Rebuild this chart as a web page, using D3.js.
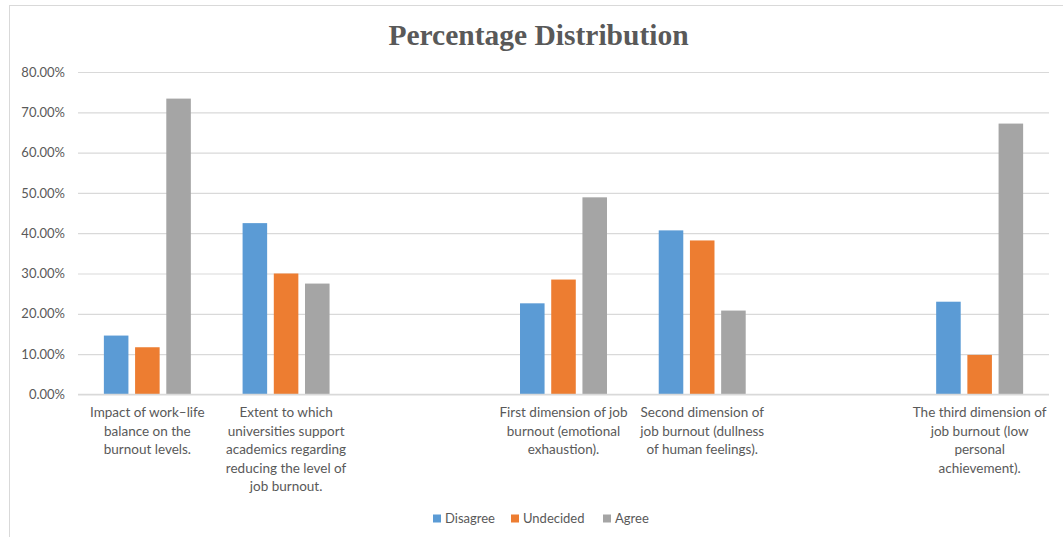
<!DOCTYPE html>
<html>
<head>
<meta charset="utf-8">
<script src="https://cdn.jsdelivr.net/npm/d3@7"></script>
<style>
  html, body { margin: 0; padding: 0; background: #fff; }
  svg { display: block; }
</style>
</head>
<body>
<svg id="chart" width="1063" height="537"></svg>
<script>
// ---- data ----
const categories = [
  "Impact of work\u2013life\nbalance on the\nburnout levels.",
  "Extent to which\nuniversities support\nacademics regarding\nreducing the level of\njob burnout.",
  "",
  "First dimension of job\nburnout (emotional\nexhaustion).",
  "Second dimension of\njob burnout (dullness\nof human feelings).",
  "",
  "The third dimension of\njob burnout (low\npersonal\nachievement)."
];
const seriesNames = ["Disagree", "Undecided", "Agree"];
const disagree  = [14.6, 42.5, null, 22.6, 40.7, null, 23.0];
const undecided = [11.7, 30.0, null, 28.5, 38.2, null, 9.8];
const agree     = [73.4, 27.5, null, 48.9, 20.8, null, 67.2];
const yTicks = [0, 10, 20, 30, 40, 50, 60, 70, 80];
const colors = ["#5b9bd5", "#ed7d31", "#a5a5a5"];
const title = "Percentage Distribution";

const seriesValues = [disagree, undecided, agree];

// ---- layout ----
const svg = d3.select("#chart");
const W = 1063, H = 537;
const plot = { left: 78, right: 1049, top: 72, bottom: 394.4 };
const textColor = "#595959";
const font = "Lato, 'Liberation Sans', sans-serif";

// chart area border
svg.append("rect")
  .attr("x", 9.5).attr("y", 5.5)
  .attr("width", W + 20).attr("height", H + 20)
  .attr("fill", "#fff").attr("stroke", "#d9d9d9").attr("stroke-width", 1);

const x = d3.scaleBand()
  .domain(d3.range(categories.length))
  .range([plot.left, plot.right])
  .paddingInner(0).paddingOuter(0);

const y = d3.scaleLinear().domain([0, 80]).range([plot.bottom, plot.top]);

// gridlines + y axis
const yAxis = d3.axisLeft(y)
  .tickValues(yTicks)
  .tickFormat(d => d.toFixed(2) + "%")
  .tickSize(-(plot.right - plot.left))
  .tickPadding(13);

const gy = svg.append("g")
  .attr("transform", `translate(${plot.left},0)`)
  .call(yAxis);
gy.select(".domain").remove();
gy.selectAll(".tick line").attr("stroke", "#d9d9d9").attr("stroke-width", 1.2);
gy.selectAll(".tick text")
  .attr("fill", textColor)
  .style("font-family", font)
  .style("font-size", "13px");

// bars
const cw = x.bandwidth();
const barW = cw * 0.177;
const step = cw * 0.225;
const rows = [];
categories.forEach((c, i) => {
  seriesValues.forEach((vals, s) => {
    if (vals[i] != null) rows.push({ i, s, v: vals[i] });
  });
});
svg.append("g").selectAll("rect").data(rows).join("rect")
  .attr("x", d => x(d.i) + cw / 2 + (d.s - 1) * step - barW / 2)
  .attr("y", d => y(d.v))
  .attr("width", barW)
  .attr("height", d => y(0) - y(d.v))
  .attr("fill", d => colors[d.s]);

// baseline
svg.append("line")
  .attr("x1", plot.left).attr("x2", plot.right)
  .attr("y1", y(0)).attr("y2", y(0))
  .attr("stroke", "#d9d9d9").attr("stroke-width", 1.2);

// category labels
const xAxis = d3.axisBottom(x).tickSize(0).tickFormat("");
const gx = svg.append("g").attr("transform", `translate(0,${plot.bottom})`).call(xAxis);
gx.select(".domain").remove();
gx.selectAll(".tick").each(function(d) {
  const lines = categories[d].split("\n").filter(l => l.length);
  const t = d3.select(this).append("text")
    .attr("fill", textColor)
    .attr("text-anchor", "middle")
    .style("font-family", font)
    .style("font-size", "13.5px");
  lines.forEach((l, k) => {
    t.append("tspan").attr("x", 0).attr("y", 23 + k * 18.4).text(l);
  });
});

// title
svg.append("text")
  .attr("x", 538.5).attr("y", 45)
  .attr("text-anchor", "middle")
  .attr("fill", textColor)
  .style("font-family", "'Liberation Serif', 'Times New Roman', serif")
  .style("font-weight", "bold")
  .style("font-size", "29.5px")
  .text(title);

// legend
const legend = svg.append("g");
const legendX = [433, 511, 603];
seriesNames.forEach((n, s) => {
  legend.append("rect")
    .attr("x", legendX[s]).attr("y", 514.5)
    .attr("width", 8).attr("height", 8)
    .attr("fill", colors[s]);
  legend.append("text")
    .attr("x", legendX[s] + 12).attr("y", 523)
    .attr("fill", textColor)
    .style("font-family", font)
    .style("font-size", "13px")
    .text(n);
});
</script>
</body>
</html>
